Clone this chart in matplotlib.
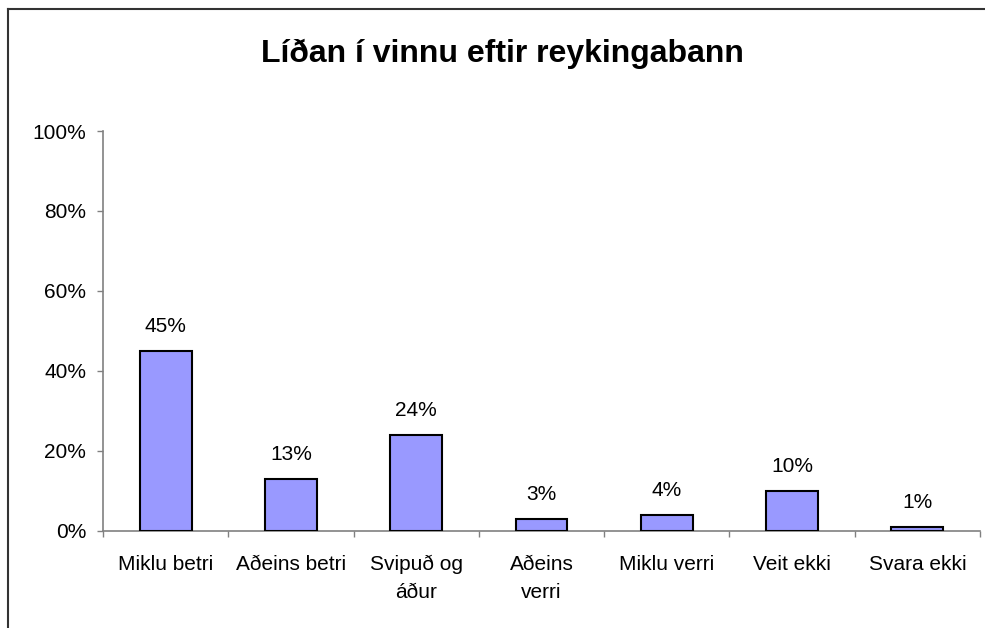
import matplotlib
matplotlib.use("Agg")
import matplotlib.pyplot as plt
from matplotlib.lines import Line2D
from matplotlib.ticker import FuncFormatter, FixedLocator

categories = ["Miklu betri", "Aðeins betri", "Svipuð og\náður", "Aðeins\nverri",
              "Miklu verri", "Veit ekki", "Svara ekki"]
values = [45, 13, 24, 3, 4, 10, 1]
title = "Líðan í vinnu eftir reykingabann"

plt.rcParams['font.family'] = ['Liberation Sans', 'DejaVu Sans']

fig = plt.figure(figsize=(9.85, 6.28), dpi=100)
ax = fig.add_axes([0.1046, 0.1545, 0.8903, 0.6369])

x = list(range(len(categories)))
ax.bar(x, values, width=0.415, color="#9999FF", edgecolor="black", linewidth=1.5, zorder=3)
for xi, v in zip(x, values):
    ax.annotate(f"{v}%", (xi, v), xytext=(0, 11), textcoords="offset points",
                ha="center", va="bottom", fontsize=15)

ax.set_xlim(-0.5, len(categories) - 0.5)
ax.set_ylim(0, 100)
ax.set_yticks([0, 20, 40, 60, 80, 100])
ax.yaxis.set_major_formatter(FuncFormatter(lambda v, p: f"{int(v)}%"))
ax.set_xticks(x)
ax.set_xticklabels(categories, fontsize=15, linespacing=1.6)
ax.xaxis.set_minor_locator(FixedLocator([i - 0.5 for i in range(len(categories) + 1)]))
ax.tick_params(axis='x', which='major', length=0, pad=17)
ax.tick_params(axis='x', which='minor', length=4, width=1, color="#808080", direction='out')
ax.tick_params(axis='y', length=4, width=1, color="#808080", pad=8, labelsize=15)

for s in ['top', 'right']:
    ax.spines[s].set_visible(False)
for s in ['left', 'bottom']:
    ax.spines[s].set_color("#808080")
    ax.spines[s].set_linewidth(1.2)

fig.text(0.51, 0.915, title, ha="center", va="center", fontsize=23, fontweight="bold")

# outer chart frame (partially cropped)
fig.add_artist(Line2D([8/985, 8/985], [0, 1 - 9/628], color="#333333", linewidth=1.5))
fig.add_artist(Line2D([8/985, 1], [1 - 9/628, 1 - 9/628], color="#333333", linewidth=1.5))

fig.savefig("out.png", dpi=100)
